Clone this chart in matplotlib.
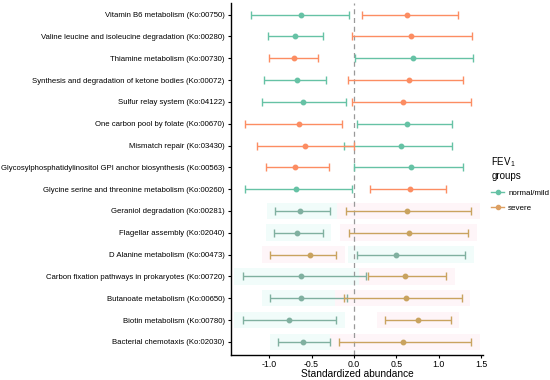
import matplotlib
matplotlib.use("Agg")
import matplotlib.pyplot as plt
from matplotlib.lines import Line2D
from matplotlib.patches import Rectangle

plt.rcParams['font.family'] = ['Liberation Sans', 'DejaVu Sans']

pathways = [
    "Vitamin B6 metabolism (Ko:00750)",
    "Valine leucine and isoleucine degradation (Ko:00280)",
    "Thiamine metabolism (Ko:00730)",
    "Synthesis and degradation of ketone bodies (Ko:00072)",
    "Sulfur relay system (Ko:04122)",
    "One carbon pool by folate (Ko:00670)",
    "Mismatch repair (Ko:03430)",
    "Glycosylphosphatidylinositol GPI anchor biosynthesis (Ko:00563)",
    "Glycine serine and threonine metabolism (Ko:00260)",
    "Geraniol degradation (Ko:00281)",
    "Flagellar assembly (Ko:02040)",
    "D Alanine metabolism (Ko:00473)",
    "Carbon fixation pathways in prokaryotes (Ko:00720)",
    "Butanoate metabolism (Ko:00650)",
    "Biotin metabolism (Ko:00780)",
    "Bacterial chemotaxis (Ko:02030)",
]

normal_mean = [-0.63, -0.69, 0.69, -0.67, -0.60, 0.63, 0.56, 0.67, -0.68, -0.64, -0.67, 0.50, -0.62, -0.63, -0.77, -0.60]
normal_lo = [-1.22, -1.01, 0.01, -1.06, -1.09, 0.04, -0.12, 0.00, -1.29, -0.93, -0.94, 0.03, -1.31, -0.99, -1.31, -0.89]
normal_hi = [-0.06, -0.36, 1.40, -0.33, -0.10, 1.15, 1.15, 1.29, -0.02, -0.28, -0.37, 1.31, 0.14, -0.08, -0.21, -0.28]

severe_mean = [0.62, 0.67, -0.71, 0.65, 0.58, -0.65, -0.58, -0.69, 0.66, 0.62, 0.65, -0.52, 0.60, 0.61, 0.75, 0.58]
severe_lo = [0.09, -0.02, -1.00, -0.07, -0.02, -1.29, -1.14, -1.04, 0.19, -0.10, -0.06, -0.99, 0.16, -0.12, 0.37, -0.18]
severe_hi = [1.23, 1.39, -0.42, 1.29, 1.38, -0.14, 0.00, -0.29, 1.09, 1.38, 1.35, -0.21, 1.09, 1.27, 1.14, 1.38]

# the lower rows of the original picture use a muted palette
n_bright = 9
bright = ("#66C2A5", "#FC8D62")
muted = ("#80B0A0", "#C9A35F")

fig = plt.figure(figsize=(5.5, 3.8), dpi=100)
ax = fig.add_axes([0.42, 0.066, 0.458, 0.927])

n = len(pathways)
ys = [n - 1 - i for i in range(n)]

for i in range(n):
    y = ys[i]
    c_norm, c_sev = bright if i < n_bright else muted
    if i >= n_bright:
        ax.add_patch(Rectangle((normal_lo[i] - 0.1, y - 0.38), normal_hi[i] - normal_lo[i] + 0.2, 0.76,
                               facecolor="#F1FCFA", edgecolor="none", zorder=0))
        ax.add_patch(Rectangle((severe_lo[i] - 0.1, y - 0.38), severe_hi[i] - severe_lo[i] + 0.2, 0.76,
                               facecolor="#FEF5F8", edgecolor="none", zorder=0))
    for m, lo, hi, c in [(normal_mean[i], normal_lo[i], normal_hi[i], c_norm),
                         (severe_mean[i], severe_lo[i], severe_hi[i], c_sev)]:
        ax.errorbar([m], [y], xerr=[[m - lo], [hi - m]], fmt="o", color=c, ms=3.2,
                    elinewidth=1.0, capsize=3, capthick=1.0, zorder=3)

ax.axvline(0, color="#999999", linestyle=(0, (4, 3)), linewidth=0.9, zorder=1)

ax.set_xlim(-1.45, 1.52)
ax.set_ylim(-0.6, n - 0.45)
ax.set_xticks([-1.0, -0.5, 0.0, 0.5, 1.0, 1.5])
ax.set_xticklabels(["-1.0", "-0.5", "0.0", "0.5", "1.0", "1.5"])
ax.set_yticks(ys)
ax.set_yticklabels(pathways)
ax.tick_params(axis="y", labelsize=5.6, length=2.5, width=0.8, pad=2)
ax.tick_params(axis="x", labelsize=6.3, length=2.5, width=0.8, pad=1)
ax.set_xlabel("Standardized abundance", fontsize=7.3, labelpad=0.5)
for s in ["top", "right"]:
    ax.spines[s].set_visible(False)
ax.spines["left"].set_linewidth(1.0)
ax.spines["bottom"].set_linewidth(1.0)

handles = [
    Line2D([0], [0], color="#66C2A5", marker="o", ms=3, lw=1),
    Line2D([0], [0], color="#DDA063", marker="o", ms=3, lw=1),
]
leg = fig.legend(handles, ["normal/mild", "severe"], title="FEV$_\\mathregular{1}$\ngroups",
                 loc="upper left", bbox_to_anchor=(0.88, 0.61), frameon=False,
                 fontsize=5.8, title_fontsize=7, handlelength=1.6, alignment="left",
                 labelspacing=1.0, handletextpad=0.5)

fig.savefig("out.png", dpi=100)
